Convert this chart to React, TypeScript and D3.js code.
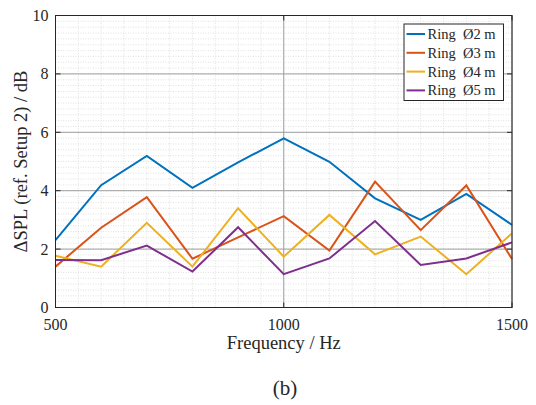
import React from "react";
import * as d3 from "d3";

const frequencies = [500, 600, 700, 800, 900, 1000, 1100, 1200, 1300, 1400, 1500];
const ring2 = [2.31, 4.19, 5.19, 4.1, 4.97, 5.79, 4.99, 3.74, 3.0, 3.89, 2.83];
const ring3 = [1.4, 2.73, 3.78, 1.67, 2.4, 3.13, 1.95, 4.31, 2.65, 4.18, 1.66];
const ring4 = [1.77, 1.4, 2.9, 1.4, 3.4, 1.74, 3.17, 1.82, 2.43, 1.14, 2.54];
const ring5 = [1.63, 1.62, 2.12, 1.23, 2.75, 1.14, 1.68, 2.96, 1.46, 1.68, 2.23];
const seriesNames = ["Ring  Ø2 m", "Ring  Ø3 m", "Ring  Ø4 m", "Ring  Ø5 m"];
const seriesColors = ["#0072BD", "#D95319", "#EDB120", "#7E2F8E"];
const xTicks = [500, 1000, 1500];
const yTicks = [0, 2, 4, 6, 8, 10];

const W = 536, H = 405;
const L = 55.5, R = 512, T = 15.5, B = 307.5;
const FONT = "'Liberation Serif', 'Times New Roman', serif";

export default function App() {
  const x = d3.scaleLinear().domain([500, 1500]).range([L, R]);
  const y = d3.scaleLinear().domain([0, 10]).range([B, T]);
  const series = [ring2, ring3, ring4, ring5];
  const line = d3.line<number>().x((_, i) => x(frequencies[i])).y((d) => y(d));
  const xMinor = d3.range(500, 1500.1, 50);
  const yMinor = d3.range(0, 10.01, 0.2);

  return (
    <svg width={W} height={H} style={{ position: "absolute", left: 0, top: 0, background: "#fff" }} fontFamily={FONT}>
      <rect x={0} y={0} width={W} height={H} fill="#fff" />
      {/* minor grid */}
      {xMinor.map((v) => (
        <line key={"xm" + v} x1={x(v)} x2={x(v)} y1={T} y2={B} stroke="#d6d6d6" strokeWidth={0.7} strokeDasharray="1,1.5" />
      ))}
      {yMinor.map((v) => (
        <line key={"ym" + v.toFixed(1)} x1={L} x2={R} y1={y(v)} y2={y(v)} stroke="#d6d6d6" strokeWidth={0.7} strokeDasharray="1,1.5" />
      ))}
      {/* major grid */}
      {xTicks.map((v) => (
        <line key={"xg" + v} x1={x(v)} x2={x(v)} y1={T} y2={B} stroke="#9e9e9e" strokeWidth={1} />
      ))}
      {yTicks.map((v) => (
        <line key={"yg" + v} x1={L} x2={R} y1={y(v)} y2={y(v)} stroke="#9e9e9e" strokeWidth={1} />
      ))}
      {/* data lines */}
      {series.map((s, i) => (
        <path key={"s" + i} d={line(s) || ""} fill="none" stroke={seriesColors[i]} strokeWidth={2} strokeLinejoin="miter" />
      ))}
      {/* box */}
      <rect x={L} y={T} width={R - L} height={B - T} fill="none" stroke="#262626" strokeWidth={1} />
      {/* ticks */}
      {xTicks.map((v) => (
        <g key={"xt" + v}>
          <line x1={x(v)} x2={x(v)} y1={B} y2={B - 5} stroke="#262626" />
          <line x1={x(v)} x2={x(v)} y1={T} y2={T + 5} stroke="#262626" />
        </g>
      ))}
      {yTicks.map((v) => (
        <g key={"yt" + v}>
          <line x1={L} x2={L + 5} y1={y(v)} y2={y(v)} stroke="#262626" />
          <line x1={R} x2={R - 5} y1={y(v)} y2={y(v)} stroke="#262626" />
        </g>
      ))}
      {/* tick labels */}
      {xTicks.map((v) => (
        <text key={"xl" + v} x={x(v)} y={329.5} textAnchor="middle" fontSize={16} fill="#262626">{v}</text>
      ))}
      {yTicks.map((v) => (
        <text key={"yl" + v} x={L - 7} y={y(v) + 5.5} textAnchor="end" fontSize={16} fill="#262626">{v}</text>
      ))}
      {/* axis labels */}
      <text x={(L + R) / 2} y={349} textAnchor="middle" fontSize={18.5} fill="#262626">Frequency / Hz</text>
      <text transform={`translate(27,${(T + B) / 2}) rotate(-90)`} textAnchor="middle" fontSize={18.5} fill="#262626">ΔSPL (ref. Setup 2) / dB</text>
      <text x={285} y={395} textAnchor="middle" fontSize={21} fill="#262626">(b)</text>
      {/* legend */}
      <rect x={404} y={24} width={99.5} height={76.5} fill="#fff" stroke="#262626" strokeWidth={1} />
      {seriesNames.map((n, i) => {
        const cy = 34 + i * 18.8;
        return (
          <g key={"lg" + i}>
            <line x1={406.5} x2={425} y1={cy} y2={cy} stroke={seriesColors[i]} strokeWidth={2} />
            <text x={427.5} y={cy + 5} fontSize={14.5} fill="#262626" style={{ whiteSpace: "pre" }}>{n}</text>
          </g>
        );
      })}
    </svg>
  );
}
